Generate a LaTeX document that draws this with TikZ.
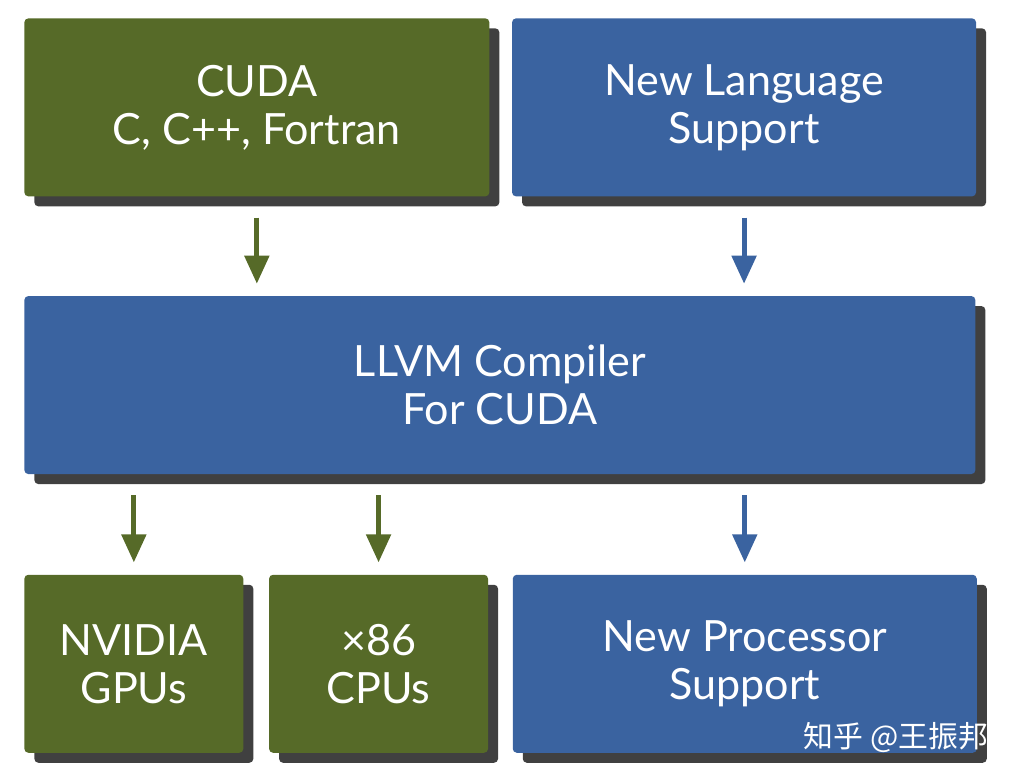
\documentclass[tikz,border=0pt]{standalone}
\usepackage{fontspec}
\setmainfont{Lato}
\newfontfamily\cjkfont{Noto Sans CJK SC}
\usetikzlibrary{positioning,shadows,arrows.meta}
\definecolor{cudagreen}{HTML}{566A28}
\definecolor{llvmblue}{HTML}{3A63A0}
\definecolor{shadowgray}{HTML}{404040}
\tikzstyle{block} = [rectangle, rounded corners=0.08cm, inner sep=0pt, align=center,
    text=white, font=\fontsize{24.5}{27.3}\selectfont, minimum height=3.56cm,
    drop shadow={shadow xshift=0.2cm, shadow yshift=-0.2cm, fill=shadowgray, opacity=1}]
\tikzstyle{gblock} = [block, fill=cudagreen]
\tikzstyle{bblock} = [block, fill=llvmblue]
\tikzstyle{line} = [draw, line width=0.1cm, -{Triangle[length=0.56cm,width=0.48cm]},
    shorten <=0.42cm, shorten >=0.24cm]

\begin{document}
\begin{tikzpicture}
		\useasboundingbox (0,0) rectangle (20.36,-15.64);
		\node [gblock, minimum width=9.3cm, anchor=north west] (cuda) at (0.48,-0.36) {CUDA\\C, C++, Fortran};
		\node [bblock, minimum width=9.28cm, right=0.44cm of cuda] (newlang) {New Language\\Support};
		\node [bblock, minimum width=19.02cm, below=1.98cm of cuda.south west, anchor=north west] (llvm) {LLVM Compiler\\For CUDA};
		\node [gblock, minimum width=4.38cm, below=2cm of llvm.south west, anchor=north west] (nvidia) {NVIDIA\\GPUs};
		\node [gblock, minimum width=4.38cm, right=0.5cm of nvidia] (x86) {×86\\CPUs};
		\node [bblock, minimum width=9.28cm, right=0.48cm of x86] (newproc) {New Processor\\Support};
		\node [font=\cjkfont\fontsize{17}{17}\selectfont, text=white] (mark) at (17.92,-14.76) {知乎 @王振邦};
		
		\path [line, draw=cudagreen] (cuda.south) -- (cuda.south |- llvm.north);
		\path [line, draw=llvmblue] (newlang.south) -- (newlang.south |- llvm.north);
		\path [line, draw=cudagreen] (nvidia.north |- llvm.south) -- (nvidia.north);
		\path [line, draw=cudagreen] (x86.north |- llvm.south) -- (x86.north);
		\path [line, draw=llvmblue] (newproc.north |- llvm.south) -- (newproc.north);
	\end{tikzpicture}
\end{document}
